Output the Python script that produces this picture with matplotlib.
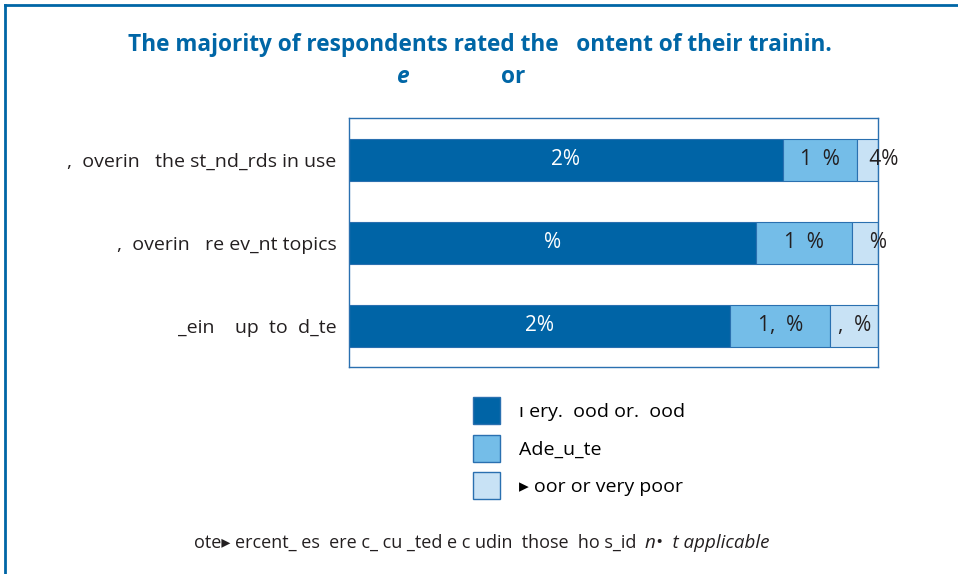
import numpy as np
import matplotlib.pyplot as plt
from matplotlib.patches import Patch
from matplotlib.lines import Line2D

# data
categories = [",  overin   the st_nd_rds in use",
              ",  overin   re ev_nt topics",
              "_ein    up  to  d_te"]
series_names = ["ı ery.  ood or.  ood", "Ade_u_te", "▸ oor or very poor"]
very_good = [82, 77, 72]
adequate = [14, 18, 19]
poor = [4, 5, 9]
# value labels as they appear in the reference
lab_very_good = ["2%", "%", "2%"]
lab_adequate = ["1  %", "1  %", "1,  %"]
lab_poor = ["      4%", "     %", ",  %"]

colors = ["#0064a6", "#74bde8", "#c8e2f5"]
edge = "#2a70b0"
blue = "#0066a6"
dark = "#231f20"
fonts = ["Open Sans", "DejaVu Sans"]

fig = plt.figure(figsize=(9.58, 5.74), dpi=100)
ax = fig.add_axes([349 / 958, 1 - 367 / 574, 529 / 958, 249 / 574])

y = np.arange(len(categories))
left = np.zeros(len(categories))
series = [very_good, adequate, poor]
labels = [lab_very_good, lab_adequate, lab_poor]
txt_colors = ["white", dark, dark]
for vals, col, labs, tc in zip(series, colors, labels, txt_colors):
    bars = ax.barh(y, vals, left=left, height=0.506, color=col,
                   edgecolor=edge, linewidth=0.8)
    for b, s in zip(bars, labs):
        ax.text(b.get_x() + b.get_width() / 2, b.get_y() + b.get_height() / 2,
                s, ha="center", va="center", color=tc, fontsize=15,
                family=fonts)
    left += np.array(vals)

ax.set_xlim(0, 100)
ax.set_ylim(2.494, -0.506)
ax.set_xticks([])
ax.set_yticks(y)
ax.set_yticklabels(categories, fontsize=14, family=fonts, color=dark)
ax.tick_params(axis="y", length=0, pad=9)
for sp in ax.spines.values():
    sp.set_color(edge)
    sp.set_linewidth(1.0)

# title
fig.text(480 / 958, 1 - 45 / 574, "The majority of respondents rated the   ontent of their trainin.",
         ha="center", va="center", fontsize=16.3, fontweight="bold", color=blue,
         family=fonts)
fig.text(403 / 958, 1 - 77 / 574, "e", ha="center", va="center", fontsize=16.3,
         fontweight="bold", style="italic", color=blue, family=fonts)
fig.text(513 / 958, 1 - 77 / 574, "or", ha="center", va="center", fontsize=16.3,
         fontweight="bold", color=blue, family=fonts)

# legend
handles = [Patch(facecolor=c, edgecolor=edge, linewidth=1.0) for c in colors]
fig.legend(handles, series_names, loc="upper left",
           bbox_to_anchor=(473 / 958, 1 - 397 / 574), frameon=False,
           borderaxespad=0, borderpad=0, handlelength=1.39, handleheight=1.76,
           labelspacing=0.54, handletextpad=1.0,
           prop={"family": fonts, "size": 14})

# footnote
fig.text(641 / 958, 1 - 543 / 574,
         "ote▸ ercent_ es  ere c_ cu _ted e c udin  those  ho s_id ",
         ha="right", va="center", fontsize=13, color=dark, family=fonts)
fig.text(645 / 958, 1 - 543 / 574, "n•  t applicable", ha="left", va="center",
         fontsize=13.5, style="italic", color=dark, family=fonts)

# frame lines around the panel
fig.add_artist(Line2D([5 / 958, 1], [1 - 5 / 574, 1 - 5 / 574], color=blue,
                      linewidth=2, transform=fig.transFigure))
fig.add_artist(Line2D([5 / 958, 5 / 958], [0, 1 - 5 / 574], color=blue,
                      linewidth=2, transform=fig.transFigure))

fig.savefig("out.png", dpi=100)
